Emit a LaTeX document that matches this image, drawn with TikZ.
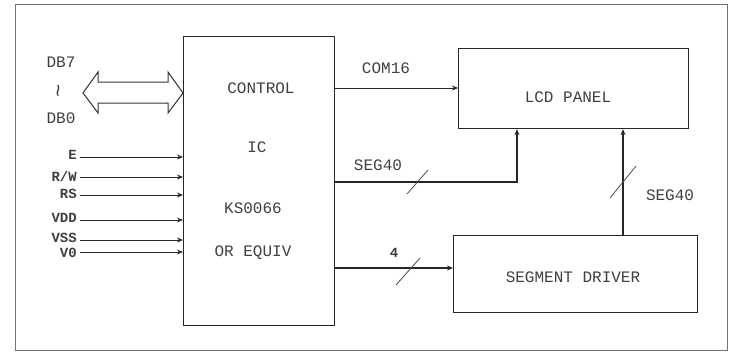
\documentclass[tikz,border=0pt]{standalone}
\usepackage{fontspec}
\setmonofont{Liberation Mono}
\usetikzlibrary{arrows.meta}
\begin{document}
\begin{tikzpicture}[x=1pt,y=-1pt,
  box/.style={draw=black!85,line width=1.2pt,fill=white,inner sep=0pt},
  lbl/.style={font=\ttfamily\fontsize{16}{16}\selectfont,text=black!75,inner sep=0pt},
  sml/.style={font=\ttfamily\bfseries\fontsize{14}{14}\selectfont,text=black!75,inner sep=0pt},
  conn/.style={draw=black!85,line width=1.2pt},
  arr/.style={conn,-{Stealth[length=6pt,width=5pt]}},
  slash/.style={draw=black!70,line width=0.8pt}]
\useasboundingbox (0,0) rectangle (732,356);
\draw[black!55,line width=0.8pt] (15,4) rectangle (727,350);

% blocks
\node[box,minimum width=151pt,minimum height=289pt,anchor=north west] (ctrl) at (183,36) {};
\node[box,minimum width=230pt,minimum height=80pt,anchor=north west] (lcd) at (458,48) {};
\node[box,minimum width=244pt,minimum height=77pt,anchor=north west] (seg) at (453,235) {};

% texts inside blocks
\node[lbl] (t1) at (261,88) {CONTROL};
\node[lbl] (t2) at (257,147) {IC};
\node[lbl] (t3) at (253,208) {KS0066};
\node[lbl] (t4) at (253,253) {OR EQUIV};
\node[lbl] (tl) at (568,97) {LCD PANEL};
\node[lbl] (ts) at (573,277) {SEGMENT DRIVER};

% data bus
\node[lbl] (db7) at (61,62) {DB7};
\node[lbl,font=\ttfamily\fontsize{22}{22}\selectfont] (dbt) at (61,91) {\rotatebox{90}{\~{}}};
\node[lbl] (db0) at (61,118) {DB0};
\draw[black!80,line width=1pt,fill=white]
  (83,93) -- (98,72) -- (98,82) -- (168,82) -- (168,72) -- (183,93)
  -- (168,113) -- (168,103) -- (98,103) -- (98,113) -- cycle;

% control signals
\coordinate (sa) at (80,157); \node[sml,anchor=east] (la) at (77,155) {E};
\coordinate (sb) at (80,177); \node[sml,anchor=east] (lb) at (77,176) {R/W};
\coordinate (sc) at (80,195); \node[sml,anchor=east] (lc) at (77,194) {RS};
\coordinate (sd) at (80,220); \node[sml,anchor=east] (ld) at (77,218) {VDD};
\coordinate (se) at (80,240); \node[sml,anchor=east] (le) at (77,238) {VSS};
\coordinate (sf) at (80,252); \node[sml,anchor=east] (lf) at (77,253) {V0};
\foreach \s in {sa,sb,sc,sd,se,sf}{
  \draw[arr,line width=1pt] (\s) -- (ctrl.west |- \s);
}

% COM16
\coordinate (c1) at (ctrl.east |- 0,88);
\draw[arr,line width=0.9pt] (c1) -- (lcd.west |- c1);
\node[lbl] (com) at (386,68) {COM16};

% SEG40 to LCD
\coordinate (s1) at (ctrl.east |- 0,182);
\coordinate (s1c) at (517,182);
\draw[conn,-{Stealth[length=6pt,width=5pt]}] (s1) -- (s1c) -- (lcd.south -| s1c);
\draw[slash] (407,194) -- (428,170);
\node[lbl] (seglbl1) at (378,165) {SEG40};

% SEG40 segment driver to LCD
\coordinate (s2) at (623,0);
\draw[conn,-{Stealth[length=6pt,width=5pt]}] (seg.north -| s2) -- (lcd.south -| s2);
\draw[slash] (610,198) -- (636,166);
\node[lbl] (seglbl2) at (670,195) {SEG40};

% 4-bit bus to segment driver
\coordinate (s3) at (ctrl.east |- 0,268);
\draw[arr] (s3) -- (seg.west |- s3);
\draw[slash] (396,285) -- (420,258);
\node[sml] (four) at (394,253) {4};
\end{tikzpicture}
\end{document}
